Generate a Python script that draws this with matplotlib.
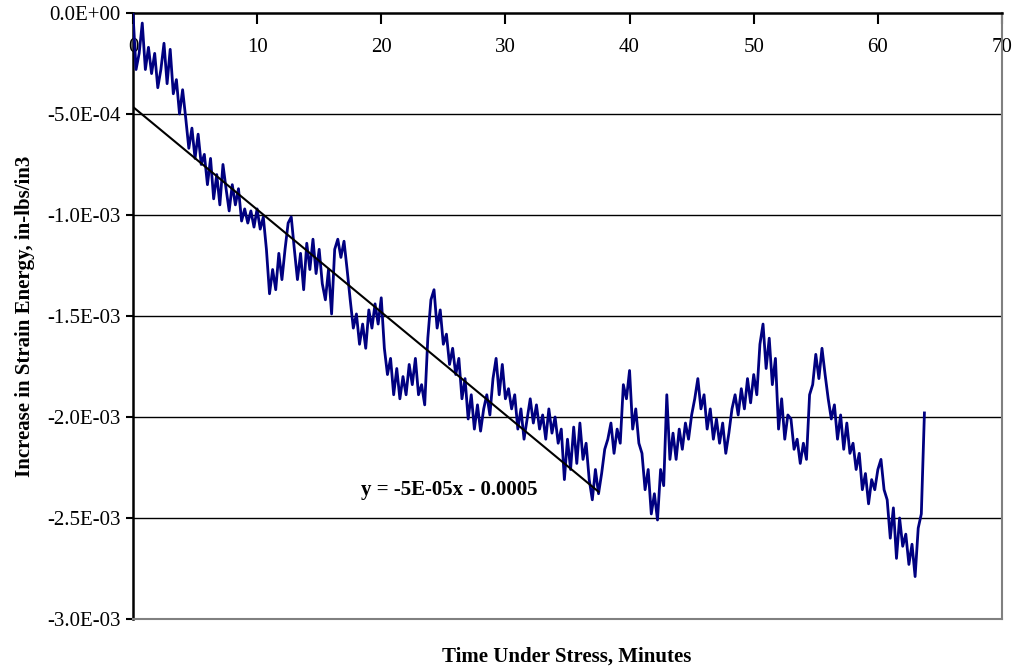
import numpy as np
import matplotlib
matplotlib.use("Agg")
import matplotlib.pyplot as plt

# strain energy readings, units of 1e-5 in-lbs/in3, one every 0.25 min
step_min = 0.25
energy_e5 = [
    0, -28, -20, -5, -28, -17, -30, -20, -37, -28,
    -15, -35, -18, -40, -33, -50, -38, -52, -67, -57,
    -72, -60, -75, -70, -85, -72, -92, -80, -95, -75,
    -87, -98, -85, -95, -87, -103, -97, -104, -98, -106,
    -97, -107, -101, -117, -139, -127, -137, -119, -132, -117,
    -104, -101, -117, -132, -119, -137, -114, -127, -112, -129,
    -117, -134, -142, -127, -149, -117, -112, -121, -113, -127,
    -142, -156, -149, -164, -154, -166, -147, -156, -144, -154,
    -141, -166, -179, -171, -189, -176, -191, -180, -189, -174,
    -184, -171, -189, -184, -194, -161, -142, -137, -156, -147,
    -164, -159, -174, -166, -179, -171, -191, -181, -201, -189,
    -206, -194, -207, -196, -189, -199, -181, -171, -189, -174,
    -191, -186, -196, -189, -206, -196, -211, -201, -191, -203,
    -194, -206, -199, -211, -196, -208, -200, -213, -206, -231,
    -211, -226, -205, -223, -203, -221, -213, -231, -241, -226,
    -238, -228, -216, -211, -203, -218, -206, -213, -184, -191,
    -177, -206, -196, -213, -218, -236, -226, -248, -238, -251,
    -226, -234, -189, -221, -208, -221, -206, -216, -203, -211,
    -199, -191, -181, -196, -189, -206, -196, -211, -201, -213,
    -203, -218, -208, -196, -189, -199, -186, -196, -181, -193,
    -179, -189, -164, -154, -176, -161, -184, -171, -206, -191,
    -211, -199, -201, -216, -211, -223, -213, -221, -189, -184,
    -169, -181, -166, -179, -191, -201, -194, -211, -199, -216,
    -203, -218, -213, -226, -218, -236, -228, -243, -231, -236,
    -226, -221, -236, -241, -260, -245, -270, -250, -264, -258,
    -273, -263, -279, -255, -248, -198,
]
scale = 1e-5

# linear trendline as printed on the chart
trend_slope = -5.08e-5
trend_icept = -4.65e-4
trend_span = [0, 37.5]
trend_text = "y = -5E-05x - 0.0005"

yticks = [0, -5e-4, -1e-3, -1.5e-3, -2e-3, -2.5e-3, -3e-3]
ytick_labels = ["0.0E+00", "-5.0E-04", "-1.0E-03", "-1.5E-03",
                "-2.0E-03", "-2.5E-03", "-3.0E-03"]
xticks = [0, 10, 20, 30, 40, 50, 60, 70]

energy = np.array(energy_e5) * scale
minutes = np.arange(len(energy)) * step_min

plt.rcParams['font.family'] = ['Liberation Serif', 'DejaVu Serif']

fig = plt.figure(figsize=(10.18, 6.72), dpi=100, facecolor='white')
ax = fig.add_axes([0.1306, 0.0789, 0.8537, 0.9018])

# gridlines (inner ones only, frame lines come from spines)
for g in yticks[1:-1]:
    ax.axhline(g, color='black', lw=1.0, zorder=1)

ax.plot(minutes, energy, color='#000080', lw=2.0, zorder=3)

tx = np.array(trend_span)
ax.plot(tx, trend_slope * tx + trend_icept, color='black', lw=1.5, zorder=4)
ax.text(25.5, -2.36e-3, trend_text, fontsize=15, fontweight='bold',
        ha='center', va='center', zorder=5)

ax.set_xlim(0, 70)
ax.set_ylim(-3e-3, 0)
ax.set_yticks(yticks)
ax.set_yticklabels(ytick_labels, fontsize=15)
ax.set_xticks(xticks)
ax.set_xticklabels([str(v) for v in xticks], fontsize=15)

ax.tick_params(axis='x', top=True, bottom=False, labeltop=True, labelbottom=False,
               direction='in', length=8, width=1.5, pad=-32)
ax.tick_params(axis='y', direction='out', length=5, width=1.5, pad=4)

ax.spines['top'].set_linewidth(1.8)
ax.spines['left'].set_linewidth(1.8)
ax.spines['right'].set_color('#808080')
ax.spines['bottom'].set_color('#808080')
ax.spines['right'].set_linewidth(1.5)
ax.spines['bottom'].set_linewidth(1.5)

fig.text(0.557, 1 - 657 / 672, "Time Under Stress, Minutes", fontsize=15,
         fontweight='bold', ha='center', va='center')
fig.text(25 / 1018, 1 - 316 / 672, "Increase in Strain Energy, in-lbs/in3",
         fontsize=15, fontweight='bold', rotation=90, ha='center', va='center')

fig.savefig("out.png", dpi=100)
